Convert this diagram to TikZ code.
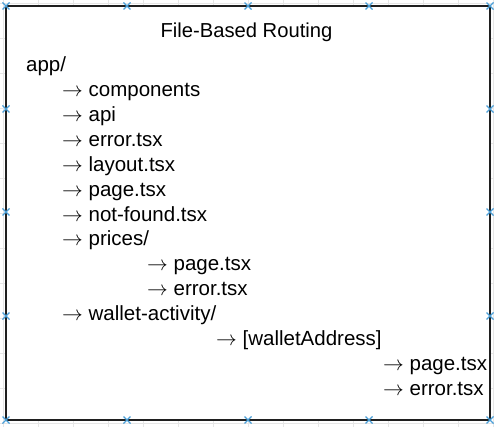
\documentclass[tikz,border=0pt]{standalone}
\usepackage{fontspec}
\setmainfont{Liberation Sans}
\definecolor{handle}{HTML}{4A9FD8}
\definecolor{gridc}{HTML}{E6E6E6}
\newcommand{\arr}{$\rightarrow$}
\begin{document}
\begin{tikzpicture}[x=1pt,y=-1pt,
  lbl/.style={anchor=base west,inner sep=0pt,font=\fontsize{20.5}{24}\selectfont},
  ttl/.style={anchor=base,inner sep=0pt,font=\fontsize{20.2}{24}\selectfont},
  hx/.style={handle,line width=1.3pt}]
\useasboundingbox (0,0) rectangle (494,427);
% faint background grid
\foreach \g in {3,38,...,493} {\draw[gridc,line width=0.6pt] (\g,0) -- (\g,427);}
\foreach \g in {3,38,...,427} {\draw[gridc,line width=0.6pt] (0,\g) -- (494,\g);}
% frame
\draw[fill=white,draw=black!88,line width=2pt] (6,6) rectangle (490,420);
% title and tree
\node[ttl] (title) at (246.5,37.5) {File-Based Routing};
\def\dy{24.85}
\node[lbl] (app) at (26,72) {app/};
\node[lbl] (comp) at (62,{72+1*\dy}) {\arr\ components};
\node[lbl] (api) at (62,{72+2*\dy}) {\arr\ api};
\node[lbl] (err) at (62,{72+3*\dy}) {\arr\ error.tsx};
\node[lbl] (lay) at (62,{72+4*\dy}) {\arr\ layout.tsx};
\node[lbl] (pg) at (62,{72+5*\dy}) {\arr\ page.tsx};
\node[lbl] (nf) at (62,{72+6*\dy}) {\arr\ not-found.tsx};
\node[lbl] (pr) at (62,{72+7*\dy}) {\arr\ prices/};
\node[lbl] (prpg) at (147,{72+8*\dy}) {\arr\ page.tsx};
\node[lbl] (prerr) at (147,{72+9*\dy}) {\arr\ error.tsx};
\node[lbl] (wa) at (62,{72+10*\dy}) {\arr\ wallet-activity/};
\node[lbl] (wad) at (216,{72+11*\dy}) {\arr\ [walletAddress]};
\node[lbl] (wapg) at (383,{72+12*\dy}) {\arr\ page.tsx};
\node[lbl] (waerr) at (383,{72+13*\dy}) {\arr\ error.tsx};
% selection handles
\foreach \px/\py in {6/6,127/6,248/6,369/6,490/6,6/420,127/420,248/420,369/420,490/420,6/109,6/212,6/316,490/109,490/212,490/316} {
  \draw[hx] (\px-3.5,\py-3.5) -- (\px+3.5,\py+3.5) (\px-3.5,\py+3.5) -- (\px+3.5,\py-3.5);
}
\end{tikzpicture}
\end{document}
